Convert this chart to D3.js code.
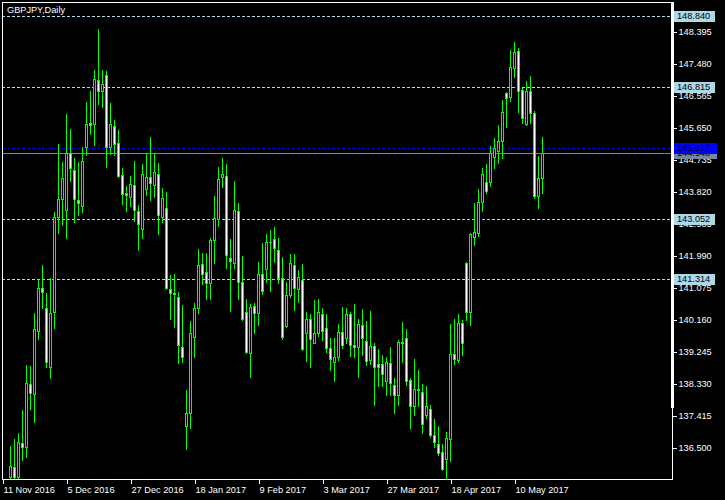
<!DOCTYPE html>
<html><head><meta charset="utf-8">
<script src="https://cdn.jsdelivr.net/npm/d3@7"></script>
<style>html,body{margin:0;padding:0;background:#000;} svg{display:block;}</style>
</head><body>
<svg id="chart" width="725" height="500"></svg>
<script>
// ---------------- data ----------------
const title = "GBPJPY,Daily";
const firstAxisDate = "2016-11-11";   // first bar of the time axis (off-screen below range)
const firstCandleDate = "2016-11-15"; // first candle listed below
const opens = [
135.67,135.94,135.67,136.64,136.51,138.31,138.03,139.84,141.06,140.49,
138.81,140.37,143.09,143.60,143.30,144.94,144.44,143.58,143.40,145.11,
145.79,145.77,147.01,146.71,147.15,145.11,145.69,145.20,144.29,143.77,
143.66,144.00,143.27,142.76,143.89,144.23,144.02,144.34,143.11,143.34,
141.03,140.92,140.80,139.38,137.13,137.50,139.67,140.49,141.74,141.51,
141.20,142.44,143.03,144.23,144.27,141.91,141.79,143.27,141.23,140.37,
139.22,140.55,140.34,141.46,141.60,142.39,142.46,142.15,141.34,139.99,
140.88,141.72,141.03,141.29,139.79,140.17,139.50,139.77,140.32,139.91,
139.34,138.94,139.10,139.80,139.64,140.32,139.45,139.38,140.01,139.55,
139.00,139.41,138.88,138.88,138.41,138.93,138.29,138.00,139.51,139.65,
138.43,137.70,138.18,138.08,137.43,137.62,136.86,136.60,136.38,136.19,
136.74,139.18,139.00,140.07,141.77,140.39,142.53,142.65,143.52,144.11,
144.09,144.82,144.99,145.28,146.63,146.52,147.35,147.84,146.73,145.75,
146.70,146.06,143.70,144.20];
const highs = [
136.56,136.75,136.91,137.58,138.86,138.84,140.34,141.32,141.72,140.91,
141.34,143.25,145.18,144.68,146.04,145.60,144.78,144.67,145.11,146.39,
146.71,147.30,148.47,147.31,147.28,146.35,145.87,145.58,144.51,143.98,
144.27,144.70,143.44,144.61,144.93,145.39,144.94,144.63,143.92,143.82,
141.44,141.46,140.96,140.58,138.15,140.12,140.65,142.18,142.06,142.06,
142.51,143.69,144.52,144.78,144.61,142.46,144.12,143.51,141.98,140.74,
140.61,140.65,141.80,142.36,142.61,142.72,142.80,142.49,141.94,141.24,
142.03,142.03,141.58,141.75,140.39,140.32,140.72,140.74,140.49,140.32,
139.63,139.65,140.03,140.53,140.49,140.39,140.61,140.17,140.46,140.12,
140.41,139.50,139.32,139.15,139.08,139.38,138.50,139.58,140.08,139.89,
138.48,139.03,138.72,138.31,138.26,137.72,137.32,137.12,136.62,136.95,
140.03,140.18,140.32,140.15,141.80,142.63,143.51,143.90,144.49,144.61,
145.13,145.35,145.73,146.44,146.68,147.87,148.09,147.92,146.78,146.98,
147.13,146.13,144.84,145.37];
const lows = [
135.62,135.62,135.62,136.15,136.24,137.60,137.24,139.60,140.49,138.81,
138.48,139.93,142.63,142.87,142.49,144.14,142.96,143.15,143.25,144.87,
145.47,145.15,146.33,146.23,144.52,144.90,144.88,144.25,143.47,143.27,
143.42,142.97,142.14,142.49,143.72,143.58,143.67,142.61,142.96,141.03,
140.17,139.94,138.91,138.95,136.46,137.05,139.10,140.34,141.18,140.74,
140.74,141.79,142.85,143.96,141.64,140.41,141.63,140.74,140.15,139.20,
138.51,139.79,140.01,140.89,141.24,140.98,141.82,141.20,139.60,139.96,
140.81,140.45,140.67,139.29,138.98,138.80,139.48,139.69,139.58,139.24,
138.72,138.41,139.00,139.34,139.48,139.12,139.10,138.53,139.15,138.86,
138.89,137.72,138.27,138.27,138.00,138.00,137.50,137.72,138.96,138.29,
137.07,137.43,137.69,136.93,137.34,136.81,136.52,136.29,135.86,135.60,
136.12,138.89,138.96,139.15,140.15,140.01,142.30,142.56,143.27,143.77,
143.99,144.49,144.63,144.79,145.66,146.42,147.11,146.11,145.79,145.74,
145.79,143.63,143.34,143.79];
const closes = [
135.98,135.67,136.67,136.51,138.36,138.05,139.88,141.06,140.96,138.94,
140.34,143.10,143.60,144.20,144.94,144.49,143.60,143.49,144.70,145.76,
145.73,147.04,146.71,146.90,145.11,145.75,145.17,144.28,143.74,143.73,
144.03,143.30,142.89,144.34,144.23,144.07,144.39,143.16,143.63,141.07,
140.93,140.90,139.45,139.08,137.48,139.77,140.49,141.72,141.46,141.20,
142.44,143.06,144.17,144.34,142.01,141.84,143.30,141.23,140.17,139.24,
140.51,140.34,141.48,140.99,142.39,142.37,142.20,141.36,139.67,140.86,
141.77,141.06,141.37,139.31,140.17,139.60,139.77,140.37,139.84,139.34,
139.03,139.10,139.80,139.45,140.32,139.45,139.38,140.03,139.63,138.98,
139.41,138.81,138.81,138.62,138.96,138.36,138.00,139.51,139.48,138.41,
137.70,138.18,138.15,137.19,137.69,136.86,136.67,136.36,135.88,136.79,
139.17,139.03,140.06,139.50,140.39,142.60,142.66,143.52,144.34,143.85,
144.92,145.06,145.28,146.09,146.51,147.38,147.82,146.71,145.93,146.70,
146.06,143.70,144.20,144.94];
const yTickValues = [148.395,147.480,146.565,145.650,144.735,143.820,142.905,141.990,141.075,140.160,139.245,138.330,137.415,136.500];
const xTickLabels = ["11 Nov 2016","5 Dec 2016","27 Dec 2016","18 Jan 2017","9 Feb 2017","3 Mar 2017","27 Mar 2017","18 Apr 2017","10 May 2017"];
const levelLines = [148.840, 146.815, 143.052, 141.314];
const askPrice = 145.077;

// ---------------- build ----------------
(function draw() {
const parse = d3.timeParse("%Y-%m-%d");
const fmtDate = d3.timeFormat("%-d %b %Y");
const fmtPrice = d3.format(".3f");

const start = parse(firstAxisDate);
const candleStart = parse(firstCandleDate);
const dates = [];
let offset = -1;
for (let d = new Date(start); dates.length < 1000; d = d3.timeDay.offset(d, 1)) {
  const wd = d.getDay();
  if (wd === 0 || wd === 6) continue;
  if (+d === +candleStart) offset = dates.length;
  dates.push(new Date(d));
  if (offset >= 0 && dates.length >= offset + opens.length) break;
}
const nBars = dates.length;

const W = 725, H = 500;
const pL = 2, pR = 672, pT = 2, pB = 479;

const svg = d3.select("#chart");
svg.append("rect").attr("width", W).attr("height", H).attr("fill", "#000");

const x = d3.scaleLinear().domain([0, nBars - 1]).range([2, 2 + 4 * (nBars - 1)]);
const y = d3.scaleLinear().domain([136.5, 148.395]).range([447.7, 31.7]);

const font = "'Liberation Sans', Arial, sans-serif";

svg.append("defs").append("clipPath").attr("id", "plot")
  .append("rect").attr("x", pL + 1).attr("y", pT + 1)
  .attr("width", pR - pL - 1).attr("height", pB - pT - 1);

const plot = svg.append("g").attr("clip-path", "url(#plot)").attr("shape-rendering", "crispEdges");

levelLines.forEach(v => {
  const yy = Math.round(y(v)) + 0.5;
  plot.append("line").attr("x1", pL).attr("x2", pR).attr("y1", yy).attr("y2", yy)
    .attr("stroke", "#add8e6").attr("stroke-dasharray", "3,2");
});
const bid = closes[closes.length - 1];
{
  const ya = Math.round(y(askPrice)) + 0.5;
  plot.append("line").attr("x1", pL).attr("x2", pR).attr("y1", ya).attr("y2", ya)
    .attr("stroke", "#0000ff").attr("stroke-dasharray", "3,2");
  const yb = Math.round(y(bid)) + 0.5;
  plot.append("line").attr("x1", pL).attr("x2", pR).attr("y1", yb).attr("y2", yb)
    .attr("stroke", "#778899");
}

const candles = opens.map((o, k) => ({i: offset + k, o, h: highs[k], l: lows[k], c: closes[k]}));
const cg = plot.selectAll("g.c").data(candles).join("g").attr("class", "c");
cg.each(function(d) {
  const g = d3.select(this);
  const cx = Math.round(x(d.i));
  const yH = Math.round(y(d.h)), yL = Math.round(y(d.l));
  const yT = Math.round(y(Math.max(d.o, d.c))), yB = Math.round(y(Math.min(d.o, d.c)));
  g.append("rect").attr("x", cx).attr("y", yH).attr("width", 1).attr("height", yL - yH + 1).attr("fill", "#00ff00");
  g.append("rect").attr("x", cx - 1).attr("y", yT).attr("width", 3).attr("height", yB - yT + 1).attr("fill", "#00ff00");
  if (yB - yT >= 2) {
    g.append("rect").attr("x", cx).attr("y", yT + 1).attr("width", 1).attr("height", yB - yT - 1)
      .attr("fill", d.c < d.o ? "#ffffff" : "#000000");
  }
});

svg.append("rect").attr("x", pL + 0.5).attr("y", pT + 0.5)
  .attr("width", pR - pL).attr("height", pB - pT)
  .attr("fill", "none").attr("stroke", "#fff").attr("shape-rendering", "crispEdges");
svg.append("rect").attr("x", pR - 1).attr("y", pT).attr("width", 3).attr("height", 406)
  .attr("fill", "#fff").attr("shape-rendering", "crispEdges");

svg.append("text").attr("x", 7).attr("y", 13).text(title)
  .attr("fill", "#fff").attr("font-family", font).attr("font-size", "9.2px");

const yAxis = d3.axisRight(y).tickValues(yTickValues).tickFormat(fmtPrice).tickSize(4).tickPadding(2);
const yaG = svg.append("g").attr("transform", `translate(${pR + 0.5},0)`).call(yAxis);
yaG.select(".domain").remove();
yaG.selectAll("line").attr("stroke", "#fff").attr("shape-rendering", "crispEdges");
yaG.selectAll("text").attr("fill", "#fff").attr("font-family", font).attr("font-size", "9.2px");

const tickIdx = xTickLabels.map(lbl => dates.findIndex(d => fmtDate(d) === lbl));
const xAxis = d3.axisBottom(x).tickValues(tickIdx)
  .tickFormat(i => fmtDate(dates[i])).tickSize(4).tickPadding(2);
const xaG = svg.append("g").attr("transform", `translate(0.5,${pB + 0.5})`).call(xAxis);
xaG.select(".domain").remove();
xaG.selectAll("line").attr("stroke", "#fff").attr("shape-rendering", "crispEdges");
xaG.selectAll("text").attr("fill", "#fff").attr("font-family", font).attr("font-size", "9.2px")
  .attr("text-anchor", "start").attr("x", 0.5).attr("dy", "0.85em");

function priceLabel(v, bg, w) {
  const yy = Math.round(y(v));
  svg.append("rect").attr("x", 674).attr("y", yy - 5).attr("width", w).attr("height", 11)
    .attr("fill", bg).attr("shape-rendering", "crispEdges");
  svg.append("text").attr("x", 677).attr("y", yy).attr("dy", "0.35em").text(fmtPrice(v))
    .attr("fill", "#000").attr("font-family", font).attr("font-size", "9.2px");
}
levelLines.forEach(v => priceLabel(v, "#add8e6", 41));
priceLabel(bid, "#778899", 43);
priceLabel(askPrice, "#0000ff", 43);
})();
</script>
</body></html>
